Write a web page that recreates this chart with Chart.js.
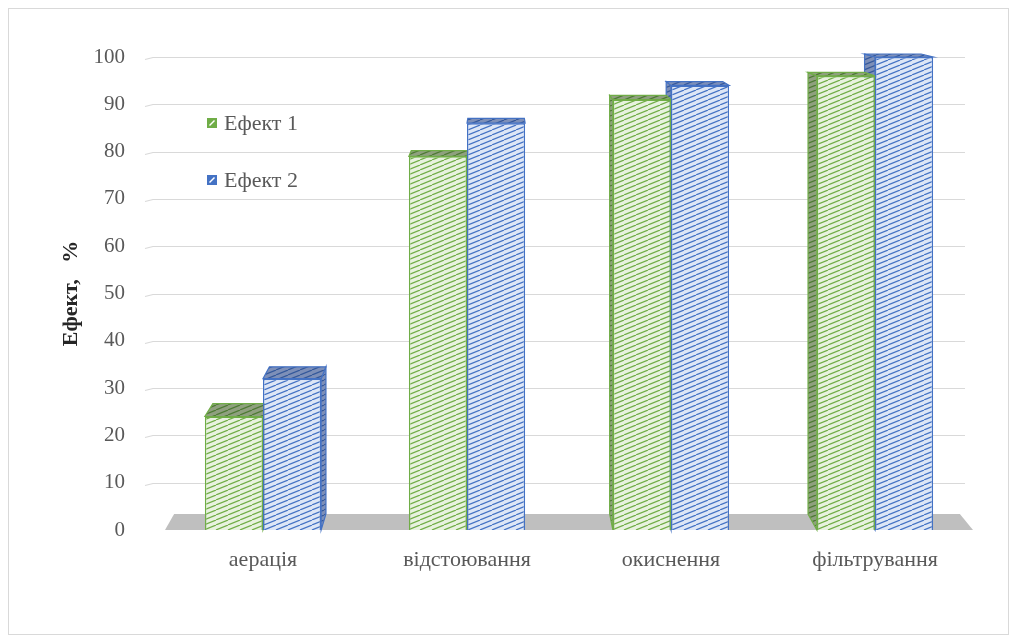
<!DOCTYPE html>
<html><head><meta charset="utf-8">
<script src="https://cdn.jsdelivr.net/npm/chart.js@4.4.0/dist/chart.umd.min.js"></script>
<style>
html,body{margin:0;padding:0;background:#fff}
#wrap{position:relative;width:1019px;height:644px}
#frame{position:absolute;left:8px;top:8px;width:1001px;height:627px;border:1px solid #d9d9d9;pointer-events:none;box-sizing:border-box}
</style>
</head><body>
<div id="wrap"><canvas id="c" width="1019" height="644"></canvas><div id="frame"></div></div>
<script>
const categories = ['аерація', 'відстоювання', 'окиснення', 'фільтрування'];
const effect1 = [24, 79, 91, 96];
const effect2 = [32, 86, 94, 100];
const seriesLabels = ['Ефект 1', 'Ефект 2'];
const yTickValues = [0, 10, 20, 30, 40, 50, 60, 70, 80, 90, 100];
const yTitle = 'Ефект,   %';

const SERIF = "'Liberation Serif', 'Times New Roman', serif";

function makePattern(bg, line) {
  const w = 12, h = 5;
  const c = document.createElement('canvas');
  c.width = w; c.height = h;
  const g = c.getContext('2d');
  g.fillStyle = bg; g.fillRect(0, 0, w, h);
  g.strokeStyle = line; g.lineWidth = 1.2;
  for (const off of [-w, 0, w]) {
    g.beginPath(); g.moveTo(off, h); g.lineTo(off + w, 0); g.stroke();
  }
  return document.createElement('canvas').getContext('2d').createPattern(c, 'repeat');
}
const patGreen = makePattern('#e8f2df', '#70ad47');
const patBlue = makePattern('#dde6f6', '#4472c4');
const patGreenDark = makePattern('#8fa07f', '#4d7a33');
const patBlueDark = makePattern('#7d8fb8', '#34589a');
const colors = [
  {front: patGreen, dark: patGreenDark, border: '#70ad47'},
  {front: patBlue, dark: patBlueDark, border: '#4472c4'}
];

const threeD = {
  id: 'threeD',
  beforeDatasetsDraw(chart) {
    const ctx = chart.ctx, a = chart.chartArea, ys = chart.scales.y;
    const vx = a.left + 335, vy = a.top - 109, k = 0.0275;
    const P = (x, y) => [x + (vx - x) * k, y + (vy - y) * k];
    ctx.save();
    ctx.strokeStyle = '#d9d9d9'; ctx.lineWidth = 1.2;
    ys.ticks.forEach(t => {
      if (t.value === 0) return;
      const y = Math.round(ys.getPixelForValue(t.value)) + 0.5;
      ctx.beginPath();
      ctx.moveTo(a.left - 16, y + 2);
      ctx.lineTo(a.left - 8, y);
      ctx.lineTo(a.right - 12, y);
      ctx.stroke();
    });
    const y0 = ys.getPixelForValue(0);
    const fl = a.left + 4, fr = a.right - 4;
    const b1 = P(fl, y0), b2 = P(fr, y0);
    ctx.fillStyle = '#bfbfbf';
    ctx.beginPath();
    ctx.moveTo(fl, y0); ctx.lineTo(fr, y0); ctx.lineTo(b2[0], y0 - 16); ctx.lineTo(b1[0], y0 - 16);
    ctx.closePath(); ctx.fill();
    const bars = [];
    chart.data.datasets.forEach((ds, i) => {
      chart.getDatasetMeta(i).data.forEach(el => bars.push({el, i}));
    });
    bars.sort((p, q) => Math.abs(q.el.x - vx) - Math.abs(p.el.x - vx));
    bars.forEach(({el, i}) => {
      const x1 = el.x - el.width / 2, x2 = el.x + el.width / 2, yt = el.y, yb = el.base;
      ctx.fillStyle = colors[i].dark;
      ctx.strokeStyle = colors[i].border;
      ctx.lineWidth = 1.2;
      const poly = pts => {
        ctx.beginPath(); ctx.moveTo(pts[0][0], pts[0][1]);
        for (let j = 1; j < pts.length; j++) ctx.lineTo(pts[j][0], pts[j][1]);
        ctx.closePath(); ctx.fill(); ctx.stroke();
      };
      const sx = vx > x2 ? x2 : (vx < x1 ? x1 : null);
      if (sx !== null) poly([[sx, yt], [sx, yb], P(sx, yb), P(sx, yt)]);
      poly([[x1, yt], [x2, yt], P(x2, yt), P(x1, yt)]);
    });
    ctx.restore();
  },
  afterDraw(chart) {
    const ctx = chart.ctx;
    ctx.save();
    const pos = [[207, 118], [207, 175]];
    chart.data.datasets.forEach((ds, i) => {
      const [x, y] = pos[i];
      ctx.fillStyle = colors[i].border;
      ctx.fillRect(x, y, 10, 10);
      ctx.strokeStyle = '#ffffff'; ctx.lineWidth = 1.5;
      ctx.beginPath(); ctx.moveTo(x + 2.5, y + 7.5); ctx.lineTo(x + 7.5, y + 2.5); ctx.stroke();
      ctx.fillStyle = '#595959';
      ctx.font = '22px ' + SERIF;
      ctx.textBaseline = 'middle';
      ctx.fillText(ds.label, x + 17, y + 6);
    });
    ctx.restore();
  }
};

new Chart(document.getElementById('c'), {
  type: 'bar',
  data: {
    labels: categories,
    datasets: [
      {label: seriesLabels[0], data: effect1, backgroundColor: colors[0].front, borderColor: colors[0].border, borderWidth: 1.5},
      {label: seriesLabels[1], data: effect2, backgroundColor: colors[1].front, borderColor: colors[1].border, borderWidth: 1.5}
    ]
  },
  options: {
    responsive: false,
    animation: false,
    devicePixelRatio: 1,
    layout: {padding: {left: 0, right: 42, top: 57, bottom: 0}},
    datasets: {bar: {barPercentage: 1, categoryPercentage: 0.57}},
    plugins: {legend: {display: false}, tooltip: {enabled: false}},
    scales: {
      x: {
        grid: {display: false, drawTicks: false},
        border: {display: false},
        ticks: {font: {family: SERIF, size: 22}, color: '#595959', padding: 17},
        afterFit(s) { s.height = 114; }
      },
      y: {
        min: 0, max: 100,
        afterBuildTicks(s) { s.ticks = yTickValues.map(v => ({value: v})); },
        grid: {display: false, drawTicks: false},
        border: {display: false},
        ticks: {font: {family: SERIF, size: 21}, color: '#595959', padding: 36},
        title: {display: true, text: yTitle, font: {family: SERIF, size: 22, weight: 'bold'}, color: '#262626', padding: {top: 58, bottom: 0}},
        afterFit(s) { s.width = 161; }
      }
    }
  },
  plugins: [threeD]
});
</script>
</body></html>
